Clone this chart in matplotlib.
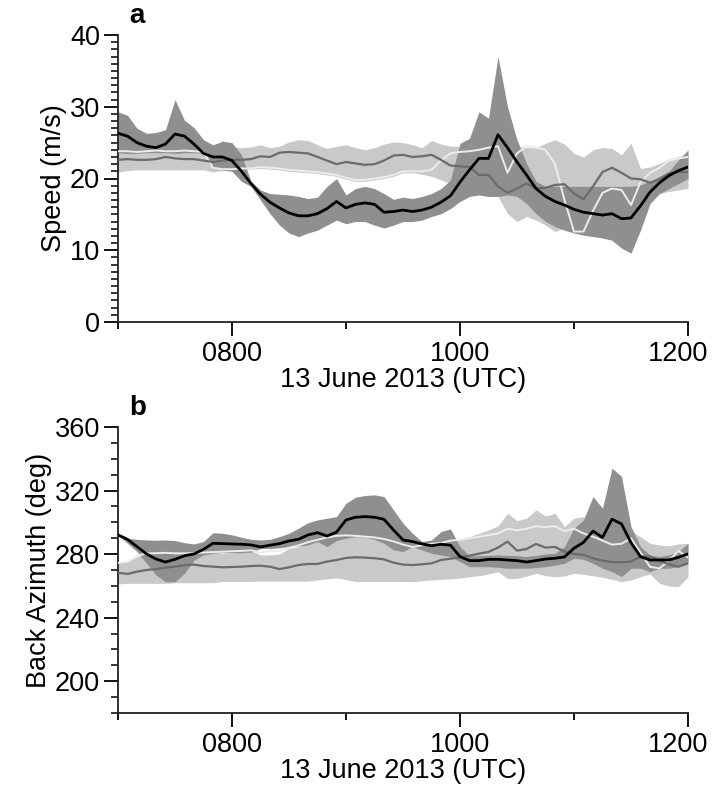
import numpy as np
import matplotlib
matplotlib.use("Agg")
import matplotlib.pyplot as plt
import matplotlib.transforms as mtransforms
from matplotlib.ticker import MultipleLocator, FixedLocator

# ---------------- data (5-minute samples, 0700-1200 UTC) ----------------
minutes = np.arange(0, 301, 5)

# Panel a: speed (m/s)
black_a = [26.3, 25.9, 25.0, 24.5, 24.3, 24.8, 26.2, 25.9, 24.8, 23.5,
           23.0, 23.0, 22.5, 21.0, 19.3, 17.8, 16.7, 15.9, 15.2, 14.8,
           14.8, 15.1, 15.8, 16.8, 15.9, 16.4, 16.6, 16.4, 15.3, 15.4,
           15.6, 15.4, 15.6, 16.0, 16.7, 17.6, 19.5, 21.2, 22.8, 22.8,
           26.1, 24.3, 22.3, 20.5, 18.6, 17.5, 16.8, 16.3, 15.7, 15.3,
           15.1, 14.9, 15.1, 14.4, 14.5, 16.2, 18.1, 19.4, 20.4, 21.1,
           21.6]
dark_hi_a = [29.3, 28.8, 27.0, 26.3, 26.4, 26.8, 31.0, 28.1, 27.1, 25.4,
             24.7, 25.2, 25.0, 23.3, 19.6, 18.4, 17.9, 17.8, 17.7, 17.5,
             17.2, 17.4, 18.9, 20.0, 17.7, 18.6, 18.9, 18.6, 17.9, 17.1,
             17.4, 17.2, 17.5, 17.9, 18.6, 19.8, 24.9, 25.6, 29.3, 28.4,
             37.0, 30.0, 25.4, 22.1, 19.6, 18.9, 18.9, 18.9, 18.9, 18.9,
             18.9, 18.9, 18.9, 18.9, 18.9, 19.1, 19.6, 20.3, 21.0, 22.6,
             24.0]
dark_lo_a = [23.6, 23.5, 23.5, 23.6, 23.6, 23.6, 23.5, 23.6, 23.6, 23.5,
             21.6, 21.2, 21.0, 19.6, 18.9, 17.0, 15.1, 13.5, 12.4, 11.9,
             12.4, 12.8, 13.5, 14.2, 13.7, 14.0, 14.0, 13.5, 13.1, 13.5,
             14.0, 14.0, 14.2, 14.7, 15.1, 15.8, 16.8, 17.5, 17.7, 17.5,
             17.5, 17.7, 17.5, 16.5, 15.1, 14.0, 13.3, 12.8, 12.4, 12.1,
             11.9, 11.7, 11.4, 10.3, 9.6, 12.8, 16.5, 17.9, 18.6, 19.3,
             20.0]
light_hi_a = [24.4, 24.4, 24.4, 24.4, 24.4, 24.4, 24.4, 24.4, 24.4, 24.4,
              24.4, 24.4, 24.4, 24.3, 24.4, 24.7, 24.3, 24.5, 25.1, 25.4,
              25.3, 24.7, 24.2, 24.5, 24.7, 24.3, 24.0, 24.3, 24.8, 25.1,
              25.0, 24.7, 24.3, 25.3, 24.8, 24.5, 24.5, 24.5, 24.5, 24.5,
              24.5, 24.5, 24.5, 24.3, 24.3, 24.9, 25.4, 24.8, 23.5, 23.0,
              24.0, 24.3, 24.2, 23.3, 24.9, 21.4, 21.6, 22.1, 22.7, 23.1,
              23.3]
light_lo_a = [20.9, 21.1, 21.2, 21.2, 21.2, 21.2, 21.2, 21.2, 21.2, 21.2,
              20.9, 21.1, 21.2, 21.3, 21.3, 21.4, 21.3, 21.2, 21.0, 20.9,
              20.8, 20.7, 20.5, 20.3, 19.9, 19.6, 19.6, 19.8, 20.0, 20.3,
              20.8, 20.8, 20.6, 20.3, 19.8, 19.3, 18.9, 18.4, 17.9, 17.7,
              17.5, 15.1, 14.0, 14.7, 14.2, 13.5, 12.6, 13.1, 12.6, 12.4,
              14.0, 15.0, 15.0, 15.0, 15.0, 17.0, 17.5, 17.9, 18.2, 18.4,
              18.6]
gray_a = [22.6, 22.7, 22.6, 22.6, 22.7, 23.0, 22.8, 22.7, 22.7, 22.5,
          22.3, 22.5, 22.6, 22.6, 22.7, 23.1, 23.0, 23.6, 23.7, 23.6,
          23.5, 23.0, 22.5, 22.0, 22.3, 22.1, 21.9, 22.0, 22.5, 23.2,
          23.3, 23.0, 23.1, 23.3, 22.6, 21.8, 21.7, 21.6, 20.5, 20.5,
          18.9, 18.0, 18.6, 19.3, 18.6, 18.7, 19.1, 19.2, 17.9, 17.1,
          18.9, 20.9, 21.5, 20.8, 20.0, 19.9, 19.4, 19.9, 20.7, 20.9,
          20.9]
white_a = [23.8, 23.8, 23.7, 23.8, 23.9, 23.8, 23.8, 23.9, 23.8, 23.7,
           21.5, 21.3, 21.3, 21.4, 21.4, 21.6, 21.5, 21.4, 21.2, 21.1,
           21.0, 20.9, 20.7, 20.5, 20.1, 19.8, 19.8, 20.0, 20.2, 20.5,
           21.0, 21.0, 21.0, 21.2, 22.5, 23.5, 23.7, 23.8, 24.0, 24.3,
           24.5, 20.8, 23.5, 24.5, 24.3, 24.0, 22.0, 17.0, 12.6, 12.6,
           15.5, 18.0, 18.6, 18.4, 16.3, 19.5, 20.8, 21.5, 22.5, 22.8,
           23.0]

# Panel b: back azimuth (deg)
black_b = [292.1, 289.3, 284.7, 280.1, 276.9, 275.0, 276.7, 279.0, 280.1, 283.0,
           286.8, 286.6, 286.4, 286.2, 285.8, 284.5, 285.6, 286.6, 288.3, 289.3,
           292.1, 293.5, 291.4, 293.8, 301.5, 303.2, 303.6, 303.2, 301.9, 295.2,
           288.9, 287.9, 286.4, 285.3, 286.2, 285.6, 278.4, 275.9, 275.9, 276.7,
           276.7, 276.3, 275.9, 275.0, 275.9, 276.9, 277.4, 278.2, 283.7, 287.4,
           294.5, 290.5, 302.0, 299.0, 287.2, 278.4, 276.3, 276.3, 276.3, 278.0,
           280.1]
dark_hi_b = [292.1, 290.0, 289.3, 288.9, 288.7, 288.9, 288.5, 287.2, 286.4, 287.9,
             293.5, 293.1, 292.1, 290.6, 289.3, 288.9, 289.3, 291.0, 293.1, 296.3,
             299.8, 301.5, 302.6, 303.6, 312.0, 315.8, 316.9, 317.3, 316.2, 307.8,
             299.4, 293.1, 287.9, 288.9, 294.2, 295.9, 284.7, 278.8, 279.0, 279.2,
             279.5, 279.2, 279.0, 278.4, 279.2, 280.1, 280.5, 284.7, 296.3, 301.5,
             316.2, 308.9, 334.1, 328.9, 297.3, 284.7, 279.5, 278.4, 279.5, 281.6,
             286.8]
dark_lo_b = [292.1, 286.8, 281.6, 274.2, 266.8, 262.6, 262.6, 267.9, 276.3, 279.5,
             280.5, 280.9, 280.9, 280.9, 281.3, 283.5, 283.5, 284.0, 284.7, 285.1,
             285.8, 287.9, 284.7, 288.5, 290.0, 291.0, 290.6, 289.3, 286.8, 282.6,
             281.6, 284.7, 282.6, 280.5, 279.5, 278.4, 275.3, 272.1, 272.1, 272.1,
             271.7, 271.1, 271.1, 271.1, 271.5, 272.1, 273.1, 274.2, 277.4, 276.7,
             274.2, 271.1, 269.0, 265.8, 271.1, 271.1, 269.0, 271.1, 271.1, 272.1,
             274.2]
light_hi_b = [274.8, 275.3, 278.4, 280.1, 280.5, 280.5, 280.5, 280.5, 280.5, 280.5,
              280.5, 280.5, 280.9, 281.2, 282.2, 279.5, 279.5, 280.0, 283.7, 284.7,
              287.2, 288.9, 291.0, 291.4, 292.1, 292.1, 291.4, 291.0, 290.0, 287.9,
              285.8, 284.7, 284.7, 285.6, 286.8, 287.9, 289.3, 291.0, 293.1, 295.2,
              297.7, 305.7, 301.1, 302.6, 307.8, 304.0, 305.7, 297.3, 302.6, 303.6,
              301.5, 298.4, 295.2, 294.2, 294.2, 291.0, 286.8, 285.8, 285.1, 286.4,
              286.8]
light_lo_b = [261.2, 261.6, 261.6, 261.6, 261.6, 261.6, 262.0, 262.0, 262.0, 262.0,
              262.0, 262.8, 262.8, 262.8, 262.8, 263.0, 263.0, 263.0, 263.0, 263.0,
              263.0, 263.8, 264.5, 265.0, 264.0, 262.8, 262.8, 262.8, 262.8, 262.8,
              262.8, 262.6, 263.3, 263.7, 264.1, 264.5, 264.9, 265.8, 266.4, 267.5,
              269.0, 264.7, 264.7, 266.2, 267.9, 266.4, 265.8, 266.2, 267.9, 267.3,
              266.4, 265.4, 264.1, 262.6, 263.7, 265.8, 267.5, 261.6, 259.9, 259.5,
              265.8]
gray_b = [268.3, 267.5, 269.0, 270.0, 270.6, 271.5, 272.1, 273.1, 273.4, 272.5,
          272.1, 271.7, 271.9, 272.1, 272.5, 272.7, 272.1, 270.6, 271.7, 273.1,
          273.8, 273.8, 275.3, 276.3, 277.6, 278.0, 277.8, 277.4, 276.7, 274.6,
          273.4, 273.1, 273.6, 274.2, 276.3, 277.1, 278.0, 279.0, 280.3, 281.4,
          284.1, 287.9, 282.2, 283.2, 286.4, 284.1, 284.5, 281.6, 280.1, 279.5,
          277.4, 275.9, 275.0, 274.8, 275.3, 278.4, 278.4, 275.9, 273.6, 272.1,
          274.2]
white_b = [274.5, 275.0, 279.0, 280.4, 280.6, 280.8, 280.5, 280.5, 280.6, 281.0,
           281.3, 281.5, 281.8, 282.0, 282.4, 281.0, 282.0, 282.0, 284.0, 285.5,
           287.5, 289.0, 290.5, 291.5, 291.8, 291.5, 291.0, 290.5, 289.5, 288.0,
           286.0, 284.5, 285.5, 286.5, 287.0, 288.5, 289.0, 290.0, 291.0, 292.0,
           293.0, 296.0, 295.0, 296.0, 297.5, 297.0, 297.5, 294.5, 296.0, 293.0,
           291.0, 288.5, 286.0, 286.5, 290.0, 281.0, 272.0, 271.0, 276.0, 282.0,
           278.0]

xtick_pos = [8, 10, 12]
xtick_labels = ["0800", "1000", "1200"]
xlabel = "13 June 2013 (UTC)"

# ---------------- style ----------------
plt.rcParams['font.family'] = ['Liberation Sans', 'DejaVu Sans']
plt.rcParams['font.size'] = 19.5

LIGHT = "#c9c9c9"
DARK = "#8f8f8f"
GRAYLINE = "#6b6b6b"
WHITELINE = "#ececec"

hours = 7 + minutes / 60.0

W, H = 715, 791
L, R = 118, 688
fig = plt.figure(figsize=(W / 100, H / 100), dpi=100)
ax_a = fig.add_axes([L / W, 1 - 322 / H, (R - L) / W, (322 - 35) / H])
ax_b = fig.add_axes([L / W, 1 - 713 / H, (R - L) / W, (713 - 427) / H])


def draw(ax, black, dhi, dlo, lhi, llo, gray, white):
    ax.fill_between(hours, llo, lhi, color=LIGHT, lw=0, zorder=1)
    ax.fill_between(hours, dlo, dhi, color=DARK, lw=0, zorder=2)
    ax.plot(hours, white, color=WHITELINE, lw=1.4, zorder=3)
    ax.plot(hours, gray, color=GRAYLINE, lw=1.6, zorder=4)
    ax.plot(hours, black, color="black", lw=2.0, zorder=5)
    ax.set_xlim(7, 12)
    for s in ("top", "right"):
        ax.spines[s].set_visible(False)
    for s in ("left", "bottom"):
        ax.spines[s].set_linewidth(1.3)
        ax.spines[s].set_color("#222222")
    ax.xaxis.set_major_locator(FixedLocator(xtick_pos))
    ax.set_xticklabels(xtick_labels)
    ax.xaxis.set_minor_locator(FixedLocator([7, 9, 11]))
    ax.tick_params(axis="x", which="major", direction="out", length=10, width=1.3, pad=3.5)
    ax.tick_params(axis="x", which="minor", direction="out", length=5, width=1.3)
    ax.tick_params(axis="y", which="major", direction="out", length=10, width=1.3, pad=3)
    ax.tick_params(axis="y", which="minor", direction="out", length=5, width=1.1)
    ax.set_xlabel(xlabel, labelpad=0)
    # keep the last tick label inside the figure, as in the reference
    last = ax.get_xticklabels()[-1]
    last.set_transform(last.get_transform() +
                       mtransforms.ScaledTranslation(-10 / 100, 0, fig.dpi_scale_trans))


draw(ax_a, black_a, dark_hi_a, dark_lo_a, light_hi_a, light_lo_a, gray_a, white_a)
ax_a.set_ylim(0, 40)
ax_a.yaxis.set_major_locator(MultipleLocator(10))
ax_a.yaxis.set_minor_locator(MultipleLocator(1))
ax_a.set_ylabel("Speed (m/s)", labelpad=2)
ax_a.text(0.02, 1.02, "a", transform=ax_a.transAxes, fontsize=20,
          fontweight="bold", ha="left", va="bottom")

draw(ax_b, black_b, dark_hi_b, dark_lo_b, light_hi_b, light_lo_b, gray_b, white_b)
ax_b.set_ylim(180, 360)
ax_b.yaxis.set_major_locator(FixedLocator([200, 240, 280, 320, 360]))
ax_b.yaxis.set_minor_locator(MultipleLocator(10))
ax_b.set_ylabel("Back Azimuth (deg)", labelpad=2)
ax_b.text(0.02, 1.02, "b", transform=ax_b.transAxes, fontsize=20,
          fontweight="bold", ha="left", va="bottom")

fig.savefig("out.png", dpi=100)
